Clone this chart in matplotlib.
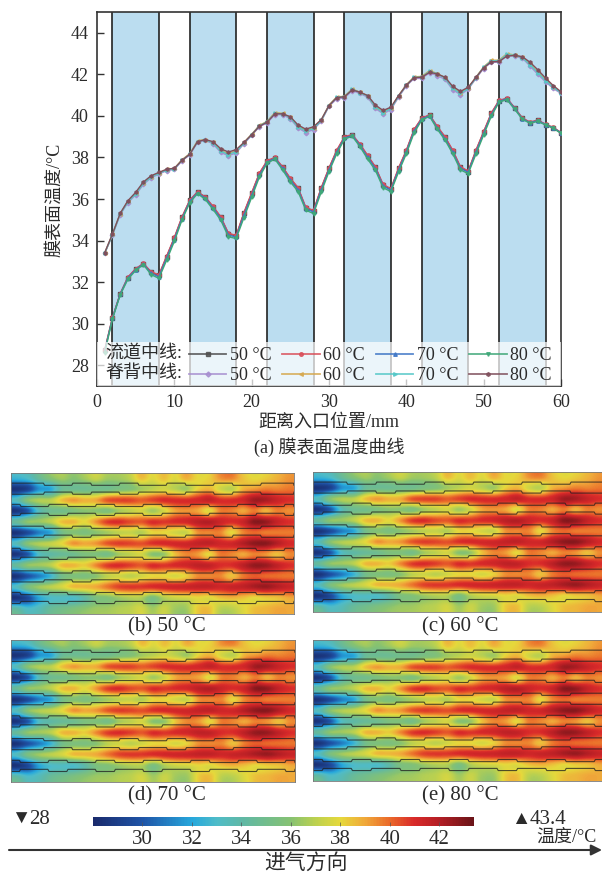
"""膜表面温度曲线与四个进气温度下的温度云图。"""

from __future__ import annotations

import matplotlib

matplotlib.use("Agg")
import matplotlib.pyplot as plt
import numpy as np
from matplotlib.cm import ScalarMappable
from matplotlib.colors import LinearSegmentedColormap, Normalize
from matplotlib.lines import Line2D
from matplotlib.patches import FancyArrowPatch, Rectangle

W, H = 602, 874

plt.rcParams["font.family"] = ["Liberation Serif", "Noto Sans CJK SC", "DejaVu Sans"]
plt.rcParams["font.size"] = 13
plt.rcParams["text.color"] = "#2b2b2b"
plt.rcParams["axes.labelcolor"] = "#2b2b2b"

distance = list(range(1, 61))

channel_50 = [28.72, 30.28, 31.43, 32.22, 32.62, 32.88, 32.47, 32.32, 33.22, 34.12, 35.12, 35.93, 36.33, 36.08, 35.62, 35.12,
              34.32, 34.22, 35.32, 36.27, 37.22, 37.82, 37.98, 37.52, 36.97, 36.52, 35.57, 35.42, 36.52, 37.47, 38.32, 38.97,
              39.08, 38.62, 38.07, 37.52, 36.67, 36.47, 37.47, 38.32, 39.32, 39.88, 40.03, 39.47, 38.97, 38.32, 37.52, 37.32,
              38.32, 39.22, 40.12, 40.73, 40.83, 40.38, 39.88, 39.68, 39.78, 39.58, 39.43, 39.18]
channel_60 = [28.75, 30.30, 31.45, 32.25, 32.65, 32.90, 32.50, 32.35, 33.25, 34.15, 35.15, 35.95, 36.35, 36.10, 35.65, 35.15,
              34.35, 34.25, 35.35, 36.30, 37.25, 37.85, 38.00, 37.55, 37.00, 36.55, 35.60, 35.45, 36.55, 37.50, 38.35, 39.00,
              39.10, 38.65, 38.10, 37.55, 36.70, 36.50, 37.50, 38.35, 39.35, 39.90, 40.05, 39.50, 39.00, 38.35, 37.55, 37.35,
              38.35, 39.25, 40.15, 40.75, 40.85, 40.40, 39.90, 39.70, 39.80, 39.60, 39.45, 39.20]
channel_70 = [28.68, 30.26, 31.42, 32.20, 32.60, 32.87, 32.42, 32.26, 33.15, 34.05, 35.06, 35.88, 36.30, 36.04, 35.57, 35.06,
              34.26, 34.17, 35.22, 36.18, 37.14, 37.78, 37.96, 37.47, 36.90, 36.44, 35.53, 35.38, 36.44, 37.40, 38.26, 38.93,
              39.06, 38.58, 38.00, 37.46, 36.62, 36.43, 37.40, 38.26, 39.26, 39.85, 40.01, 39.42, 38.90, 38.25, 37.47, 37.29,
              38.25, 39.16, 40.06, 40.70, 40.82, 40.36, 39.86, 39.67, 39.77, 39.58, 39.42, 39.18]
channel_80 = [28.60, 30.22, 31.38, 32.14, 32.56, 32.84, 32.36, 32.18, 33.05, 33.96, 35.00, 35.82, 36.26, 35.98, 35.50, 34.98,
              34.18, 34.10, 35.10, 36.08, 37.06, 37.72, 37.92, 37.40, 36.82, 36.36, 35.46, 35.30, 36.34, 37.32, 38.18, 38.88,
              39.02, 38.52, 37.92, 37.38, 36.54, 36.36, 37.30, 38.18, 39.18, 39.80, 39.98, 39.36, 38.84, 38.18, 37.40, 37.22,
              38.16, 39.08, 40.00, 40.66, 40.78, 40.32, 39.84, 39.64, 39.74, 39.56, 39.40, 39.16]
ridge_50 = [33.38, 34.26, 35.25, 35.82, 36.20, 36.70, 37.02, 37.20, 37.36, 37.42, 37.84, 38.12, 38.72, 38.82, 38.66, 38.24,
            38.08, 38.22, 38.66, 39.06, 39.48, 39.66, 40.06, 40.06, 39.86, 39.42, 39.20, 39.34, 39.74, 40.46, 40.82, 40.86,
            41.22, 41.08, 40.90, 40.36, 40.10, 40.30, 40.90, 41.44, 41.80, 41.80, 42.08, 41.94, 41.76, 41.26, 41.02, 41.28,
            41.80, 42.28, 42.58, 42.58, 42.90, 42.88, 42.78, 42.40, 42.00, 41.64, 41.32, 41.08]
ridge_60 = [33.40, 34.30, 35.30, 35.90, 36.28, 36.78, 37.08, 37.26, 37.42, 37.47, 37.90, 38.18, 38.80, 38.86, 38.72, 38.34,
            38.18, 38.32, 38.72, 39.12, 39.54, 39.74, 40.16, 40.12, 39.93, 39.50, 39.30, 39.42, 39.80, 40.52, 40.92, 40.94,
            41.30, 41.14, 40.97, 40.44, 40.20, 40.38, 40.97, 41.50, 41.88, 41.90, 42.18, 42.04, 41.84, 41.36, 41.12, 41.34,
            41.86, 42.36, 42.68, 42.68, 43.00, 42.93, 42.83, 42.50, 42.12, 41.74, 41.40, 41.14]
ridge_70 = [33.39, 34.28, 35.28, 35.86, 36.25, 36.75, 37.06, 37.24, 37.40, 37.45, 37.87, 38.16, 38.76, 38.85, 38.70, 38.30,
            38.14, 38.28, 38.70, 39.10, 39.52, 39.72, 40.12, 40.10, 39.91, 39.48, 39.26, 39.40, 39.78, 40.50, 40.89, 40.92,
            41.28, 41.12, 40.95, 40.42, 40.16, 40.36, 40.95, 41.48, 41.85, 41.87, 42.14, 42.02, 41.82, 41.32, 41.08, 41.32,
            41.84, 42.34, 42.65, 42.65, 42.96, 42.91, 42.81, 42.46, 42.08, 41.70, 41.37, 41.12]
ridge_80 = [33.42, 34.32, 35.31, 35.92, 36.32, 36.82, 37.12, 37.28, 37.43, 37.48, 37.86, 38.16, 38.76, 38.86, 38.76, 38.42,
            38.26, 38.38, 38.72, 39.10, 39.50, 39.70, 40.10, 40.10, 39.96, 39.56, 39.36, 39.48, 39.82, 40.50, 40.88, 40.92,
            41.25, 41.14, 40.98, 40.52, 40.26, 40.42, 40.98, 41.48, 41.84, 41.86, 42.10, 42.02, 41.86, 41.42, 41.18, 41.38,
            41.85, 42.32, 42.60, 42.62, 42.88, 42.91, 42.85, 42.58, 42.22, 41.82, 41.46, 41.16]

series_labels = ["50 °C", "50 °C", "60 °C", "60 °C", "70 °C", "70 °C", "80 °C", "80 °C"]
band_edges = [(2, 8), (12, 18), (22, 28), (32, 38), (42, 48), (52, 58)]
y_ticks = [28, 30, 32, 34, 36, 38, 40, 42, 44]
x_ticks = [0, 10, 20, 30, 40, 50, 60]

# 云图网格：行为沿宽度方向（上边缘、流道、脊背交替），列为沿进气方向
temperature_field = [
    [32.5, 33.0, 34.5, 35.8, 36.5, 36.0, 36.5, 37.2, 36.5, 36.5, 37.0, 38.5, 37.8, 38.5, 37.8, 38.8, 38.0, 38.2, 39.3, 39.5, 38.5, 38.0, 38.3, 38.8, 39.3],
    [28.5, 29.2, 31.5, 32.0, 34.5, 34.8, 34.8, 35.0, 35.0, 35.5, 35.8, 36.5, 37.0, 37.5, 37.0, 36.5, 38.2, 38.8, 37.5, 37.0, 38.8, 39.3, 39.7, 39.6, 39.8],
    [33.5, 36.0, 36.8, 37.0, 38.5, 39.2, 38.8, 39.0, 40.3, 40.6, 40.6, 40.2, 40.6, 41.0, 41.0, 41.0, 41.2, 41.6, 41.0, 41.0, 41.3, 42.4, 42.2, 41.5, 41.0],
    [28.6, 30.0, 33.5, 34.8, 35.0, 35.5, 36.0, 36.0, 35.6, 36.5, 37.0, 37.5, 36.5, 37.5, 39.0, 39.3, 39.0, 37.8, 39.6, 39.6, 39.0, 39.7, 38.8, 39.6, 39.4],
    [34.5, 36.2, 36.4, 37.0, 38.5, 38.7, 38.0, 39.3, 40.7, 41.0, 40.5, 40.3, 41.0, 40.8, 41.0, 41.2, 41.8, 42.0, 41.4, 41.0, 41.5, 42.8, 42.6, 41.6, 41.0],
    [28.5, 29.5, 31.0, 32.0, 35.0, 35.8, 35.5, 36.0, 36.5, 37.0, 37.2, 36.8, 38.0, 38.0, 37.5, 37.3, 39.3, 39.5, 39.5, 38.0, 39.5, 40.0, 39.7, 39.7, 39.7],
    [33.5, 36.0, 36.8, 37.2, 38.0, 39.3, 39.0, 39.3, 40.3, 40.7, 40.6, 40.4, 40.9, 41.1, 41.2, 41.3, 41.6, 41.7, 41.3, 41.3, 42.0, 42.7, 42.8, 42.0, 41.2],
    [28.6, 30.0, 33.2, 34.0, 34.5, 34.8, 35.5, 35.6, 35.2, 36.5, 37.0, 37.5, 36.0, 36.3, 38.5, 39.5, 39.2, 38.0, 39.7, 39.5, 39.0, 39.6, 39.3, 38.5, 39.4],
    [34.5, 36.2, 36.5, 37.0, 38.6, 38.7, 38.3, 39.5, 40.7, 41.0, 40.7, 40.3, 41.0, 40.8, 41.1, 41.3, 41.7, 41.6, 41.0, 41.0, 41.8, 42.6, 42.5, 41.7, 41.0],
    [28.5, 29.8, 31.0, 32.5, 35.0, 35.6, 35.5, 36.0, 37.0, 37.4, 37.0, 37.5, 38.0, 38.0, 37.6, 38.2, 39.4, 39.5, 39.5, 38.5, 39.7, 40.2, 40.0, 39.9, 39.8],
    [33.3, 35.5, 36.5, 37.0, 37.6, 38.6, 38.7, 39.0, 39.8, 40.6, 40.8, 40.8, 41.0, 41.2, 41.3, 41.4, 41.6, 41.6, 41.3, 41.5, 41.7, 42.2, 42.5, 42.0, 41.5],
    [28.5, 29.5, 32.0, 33.0, 33.2, 33.0, 34.0, 35.5, 35.8, 36.4, 36.8, 36.8, 35.5, 36.8, 37.4, 37.6, 38.0, 37.8, 38.5, 38.8, 38.5, 38.0, 38.3, 38.5, 39.0],
    [34.0, 33.0, 33.5, 34.5, 35.0, 35.5, 36.0, 36.4, 36.5, 36.8, 37.0, 37.5, 36.5, 37.3, 36.5, 36.5, 38.3, 38.5, 37.0, 37.0, 37.8, 38.5, 38.7, 39.0, 39.0],
]

channel_centers = [3.34, 7.85, 12.5, 17.2, 22.0, 26.6]
wide_a = [(0, 7), (13, 17), (23, 27), (33, 37), (43, 47), (53, 60)]
wide_b = [(0, 2), (8, 12), (18, 22), (28, 32), (38, 42), (48, 52), (58, 60)]

cbar_ticks = [30, 32, 34, 36, 38, 40, 42]
cmap_values = [28, 30, 32, 33, 34, 36, 37, 38, 39, 40, 41, 42, 43.4]
cmap_colors = ["#1a2a6c", "#1f55a8", "#27a8dc", "#4fbcc8", "#5fb8a6", "#86c272", "#bcd14f", "#e6d93c",
               "#f0a93a", "#ea6a2a", "#d92a2a", "#b51f25", "#6a1418"]

panels = [
    ("(b) 50 °C", (11, 473, 294, 614), 167, 627),
    ("(c) 60 °C", (313, 472, 604.5, 612), 460, 627),
    ("(d) 70 °C", (10.5, 640, 295, 782), 167, 796),
    ("(e) 80 °C", (313, 640, 604.5, 781), 460, 796),
]


def box(x0: float, y0: float, x1: float, y1: float) -> list[float]:
    """像素坐标（左上原点）转成 figure 坐标。"""

    return [x0 / W, 1 - y1 / H, (x1 - x0) / W, (y1 - y0) / H]


def put_text(fig, x: float, y: float, text: str, **kwargs) -> None:
    kwargs.setdefault("ha", "center")
    kwargs.setdefault("va", "center")
    fig.text(x / W, 1 - y / H, text, **kwargs)


def draw_curves(fig) -> None:
    ax = fig.add_axes(box(97, 12, 561, 386))
    for left, right in band_edges:
        ax.axvspan(left, right, color="#bbddf0", lw=0, zorder=0)
        ax.axvline(left, color="#222222", lw=1.2, zorder=1)
        ax.axvline(right, color="#222222", lw=1.2, zorder=1)

    styles = [
        (channel_50, "#505050", "s"), (channel_60, "#d94f5a", "o"),
        (channel_70, "#3f76c6", "^"), (channel_80, "#3fa878", "v"),
        (ridge_50, "#a78fd0", "D"), (ridge_60, "#d6a94f", "<"),
        (ridge_70, "#55c8c8", ">"), (ridge_80, "#7f4f5c", "h"),
    ]
    for values, color, marker in styles:
        ax.plot(distance, values, color=color, marker=marker, ms=2.3, lw=1.0, zorder=3)

    ax.set_xlim(0, 60)
    ax.set_ylim(27, 45)
    ax.set_xticks(x_ticks)
    ax.set_yticks(y_ticks)
    ax.tick_params(direction="in", length=5, width=1.0, color="#333333", labelcolor="#2b2b2b", labelsize=13, pad=6)
    for spine in ax.spines.values():
        spine.set_linewidth(1.2)
        spine.set_color("#333333")

    ax.add_patch(Rectangle((0, 0), 1, 0.1185, transform=ax.transAxes, fc="white", ec="none", alpha=0.72, zorder=4))

    # 图例按列填充：每列上面是流道中线，下面是脊背中线
    order = [(styles[0], 0), (styles[4], 1), (styles[1], 2), (styles[5], 3),
             (styles[2], 4), (styles[6], 5), (styles[3], 6), (styles[7], 7)]
    handles = [Line2D([], [], color=s[1], marker=s[2], ms=2.6, lw=1.3, alpha=0.85) for s, _ in order]
    labels = [series_labels[i] for _, i in order]
    legend = ax.legend(handles, labels, ncols=4, loc="lower left", bbox_to_anchor=(189 / W, 1 - 384 / H),
                       bbox_transform=fig.transFigure, frameon=False, fontsize=13, borderpad=0, borderaxespad=0,
                       handlelength=2.07, handletextpad=0.2, columnspacing=0.6, labelspacing=0.16)
    legend.set_zorder(5)

    put_text(fig, 105, 353, "流道中线:", ha="left", fontsize=13)
    put_text(fig, 105, 373, "脊背中线:", ha="left", fontsize=13)
    put_text(fig, 55, 200, "膜表面温度/°C", rotation=90, fontsize=13)
    put_text(fig, 329, 422, "距离入口位置/mm", fontsize=13)
    put_text(fig, 329, 447, "(a) 膜表面温度曲线", fontsize=13)


def channel_outline(wide: list[tuple[int, int]]) -> tuple[np.ndarray, np.ndarray]:
    """按宽段位置生成流道一侧的折线，过渡段略带斜角。"""

    xs, half = [], []
    for left, right in wide:
        xs += [left - 0.12, left + 0.12, right - 0.12, right + 0.12]
        half += [0.72, 1.18, 1.18, 0.72]
    return np.clip(xs, 0, 60), np.array(half)


def draw_panels(fig, cmap, norm) -> None:
    for title, (x0, y0, x1, y1), tx, ty in panels:
        ax = fig.add_axes(box(x0, y0, x1, y1))
        # agg 的 bicubic 会把流道和脊背的温差抹平，catrom 能保住网格上的读数
        ax.imshow(temperature_field, cmap=cmap, norm=norm, extent=[0, 60, 30, 0], aspect="auto", interpolation="catrom")
        for i, center in enumerate(channel_centers):
            xs, half = channel_outline(wide_a if i % 2 == 0 else wide_b)
            ax.plot(xs, center - half, color="#1e1e1e", lw=0.8, alpha=0.75)
            ax.plot(xs, center + half, color="#1e1e1e", lw=0.8, alpha=0.75)
        ax.set_xlim(0, 60)
        ax.set_ylim(30, 0)
        ax.set_xticks([])
        ax.set_yticks([])
        for spine in ax.spines.values():
            spine.set_linewidth(0.6)
            spine.set_color("#777777")
        put_text(fig, tx, ty, title, fontsize=15)


def draw_colorbar(fig, cmap, norm) -> None:
    cax = fig.add_axes(box(93, 817, 474, 826))
    cbar = fig.colorbar(ScalarMappable(norm=norm, cmap=cmap), cax=cax, orientation="horizontal")
    cbar.set_ticks(cbar_ticks)
    cbar.outline.set_visible(False)
    cax.tick_params(direction="in", length=3, width=0.5, color="#555555", labelsize=15, labelcolor="#2b2b2b", pad=3)

    put_text(fig, 11, 819, "▼", ha="left", fontsize=14)
    put_text(fig, 29, 819, "28", ha="left", fontsize=15)
    put_text(fig, 511, 819, "▲", ha="left", fontsize=14)
    put_text(fig, 530, 819, "43.4", ha="left", fontsize=15)
    put_text(fig, 566, 837, "温度/°C", fontsize=13)

    fig.add_artist(FancyArrowPatch((9 / W, 1 - 850 / H), (1.0, 1 - 850 / H), transform=fig.transFigure,
                                   arrowstyle="-|>", mutation_scale=16, lw=1.5, color="#333333",
                                   shrinkA=0, shrinkB=0))
    put_text(fig, 306, 864, "进气方向", fontsize=15)


def main() -> None:
    fig = plt.figure(figsize=(W / 100, H / 100), dpi=100)
    positions = [(v - cmap_values[0]) / (cmap_values[-1] - cmap_values[0]) for v in cmap_values]
    cmap = LinearSegmentedColormap.from_list("cloud", list(zip(positions, cmap_colors)))
    norm = Normalize(cmap_values[0], cmap_values[-1])

    draw_curves(fig)
    draw_panels(fig, cmap, norm)
    draw_colorbar(fig, cmap, norm)
    fig.savefig("out.png", dpi=100)
    plt.close(fig)


if __name__ == "__main__":
    main()
